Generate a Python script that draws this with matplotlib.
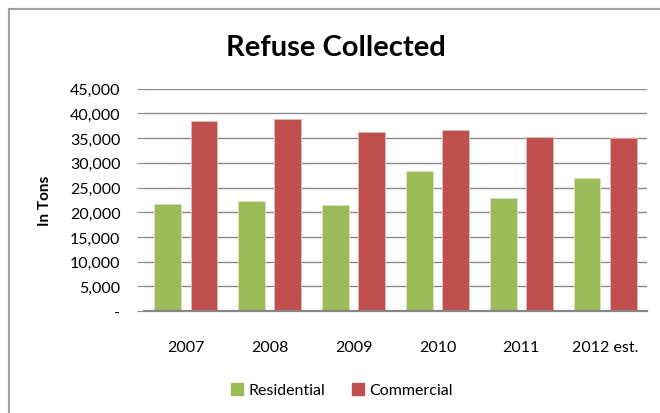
import matplotlib
matplotlib.use("Agg")
import matplotlib.pyplot as plt
import numpy as np
from matplotlib.ticker import FuncFormatter
from matplotlib.lines import Line2D

categories = ["2007", "2008", "2009", "2010", "2011", "2012 est."]
residential = [21700, 22300, 21400, 28400, 22900, 27000]
commercial = [38500, 38800, 36200, 36700, 35300, 35000]
series_names = ["Residential", "Commercial"]
colors = ["#9BBB59", "#C0504D"]

plt.rcParams['font.family'] = ['Lato', 'DejaVu Sans']

fig = plt.figure(figsize=(6.6, 4.14), dpi=100)
W, H = 660, 414
ax = fig.add_axes([144 / W, 1 - 312 / H, (647 - 144) / W, (312 - 89.7) / H])

x = np.arange(len(categories))
bw = 0.32
off = 0.215
ax.bar(x - off, residential, bw, color=colors[0], edgecolor="#D7E4BD", linewidth=0.6, zorder=3, label=series_names[0])
ax.bar(x + off, commercial, bw, color=colors[1], edgecolor="#E6B9B8", linewidth=0.6, zorder=3, label=series_names[1])

ax.set_xlim(-0.5, len(categories) - 0.5)
ax.set_ylim(0, 45000)
ax.set_yticks(np.arange(0, 45001, 5000))
ax.yaxis.set_major_formatter(FuncFormatter(lambda v, p: "-" if v == 0 else f"{int(v):,}"))
ax.set_xticks(x)
ax.set_xticklabels(categories)
ax.grid(axis="y", color="#8C8C8C", linewidth=1.0, zorder=0)
for s in ["top", "right", "left"]:
    ax.spines[s].set_visible(False)
ax.spines["bottom"].set_color("#868686")
ax.spines["bottom"].set_linewidth(1.6)
ax.spines["bottom"].set_zorder(4)
ax.tick_params(axis="y", length=5, color="#8C8C8C", labelsize=11.5, pad=12, labelcolor="#000000")
ax.tick_params(axis="x", length=0, labelsize=11.5, pad=21, labelcolor="#000000")

ax.set_ylabel("In Tons", fontsize=11, fontweight="bold")
ax.yaxis.set_label_coords((52 - 144) / (647 - 144), 0.5)

fig.text(336 / W, 1 - 48 / H, "Refuse Collected", ha="center", va="center", fontsize=21, fontweight="bold")

handles = [Line2D([], [], marker="s", linestyle="none", markersize=8, markerfacecolor=c, markeredgecolor=c) for c in colors]
fig.legend(handles, series_names, loc="center", bbox_to_anchor=(341 / W, 1 - 391 / H), ncol=2, frameon=False,
           fontsize=11.5, handletextpad=0.2, columnspacing=1.6, handlelength=1.0)

# outer border (left and top only visible)
fig.add_artist(Line2D([9 / W, 9 / W], [0, 1 - 10 / H], transform=fig.transFigure, color="#A0A0A0", linewidth=1.5))
fig.add_artist(Line2D([9 / W, 1], [1 - 10 / H, 1 - 10 / H], transform=fig.transFigure, color="#A0A0A0", linewidth=1.5))

fig.savefig("out.png", dpi=100)
